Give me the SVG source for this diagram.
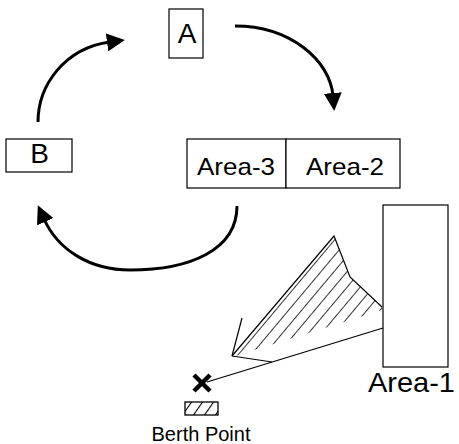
<svg xmlns="http://www.w3.org/2000/svg" width="459" height="444" viewBox="0 0 459 444">
  <style>
    .box { fill: #fff; stroke: #000; stroke-width: 1.2; }
    .lbl { font-family: "Liberation Sans", Arial, sans-serif; fill: #000; text-anchor: middle; }
    .flow { fill: none; stroke: #000; stroke-width: 3; }
    .thin { fill: none; stroke: #000; stroke-width: 1.2; }
  </style>
  <defs>
    <marker id="head" markerWidth="6" markerHeight="6" refX="1" refY="3" orient="auto" markerUnits="strokeWidth" viewBox="0 0 6 6">
      <path d="M0,0 L6,3 L0,6 Z" fill="#000"/>
    </marker>
    <pattern id="hatch" width="10" height="10" patternUnits="userSpaceOnUse" patternTransform="rotate(40)">
      <line x1="0" y1="0" x2="0" y2="10" stroke="#000" stroke-width="1.6"/>
    </pattern>
    <pattern id="hatch-small" width="9" height="9" patternUnits="userSpaceOnUse" patternTransform="rotate(35)">
      <line x1="0" y1="0" x2="0" y2="9" stroke="#000" stroke-width="2.2"/>
    </pattern>
  </defs>

  <!-- nodes -->
  <g id="node-a">
    <rect class="box" x="169" y="9" width="34" height="49"/>
    <text class="lbl" x="187" y="43" font-size="28">A</text>
  </g>
  <g id="node-b">
    <rect class="box" x="6" y="139" width="66" height="33"/>
    <text class="lbl" x="39.5" y="163" font-size="28">B</text>
  </g>
  <g id="area-3">
    <rect class="box" x="187" y="139" width="99" height="49"/>
    <text class="lbl" x="236" y="175" font-size="24" textLength="78" lengthAdjust="spacingAndGlyphs">Area-3</text>
  </g>
  <g id="area-2">
    <rect class="box" x="286" y="139" width="114" height="49"/>
    <text class="lbl" x="345" y="175" font-size="24" textLength="78" lengthAdjust="spacingAndGlyphs">Area-2</text>
  </g>
  <g id="area-1">
    <rect class="box" x="383" y="205" width="65" height="162"/>
    <text class="lbl" x="411.5" y="392" font-size="28" textLength="87" lengthAdjust="spacingAndGlyphs">Area-1</text>
  </g>
  <g id="berth-point">
    <path d="M194,375 L210,391 M210,375 L194,391" stroke="#000" stroke-width="4.5" fill="none"/>
    <rect x="185" y="402" width="33" height="13" fill="url(#hatch-small)" stroke="#000" stroke-width="1.3"/>
    <text class="lbl" x="201" y="441" font-size="21" textLength="99" lengthAdjust="spacingAndGlyphs">Berth Point</text>
  </g>

  <!-- connectors -->
  <g id="connectors">
    <path class="flow" d="M235,26 C290,26 330,60 333,96" marker-end="url(#head)"/>
    <path class="flow" d="M38,122 C38,85 65,48 110,42" marker-end="url(#head)"/>
    <path class="flow" d="M237,206 C237,250 190,270 130,270 C90,270 58,250 44,219" marker-end="url(#head)"/>

    <!-- berthing approach: course line and swept arrow -->
    <line class="thin" x1="207" y1="382" x2="383" y2="328"/>
    <polygon points="232,356 334,236 350,277 382,307 382,310 232,357" fill="url(#hatch)" stroke="none"/>
    <polyline class="thin" points="232,356 334,236 350,277 382,307"/>
    <line class="thin" x1="232" y1="356" x2="242" y2="318"/>
    <line class="thin" x1="232" y1="356" x2="272" y2="362"/>
  </g>
</svg>
